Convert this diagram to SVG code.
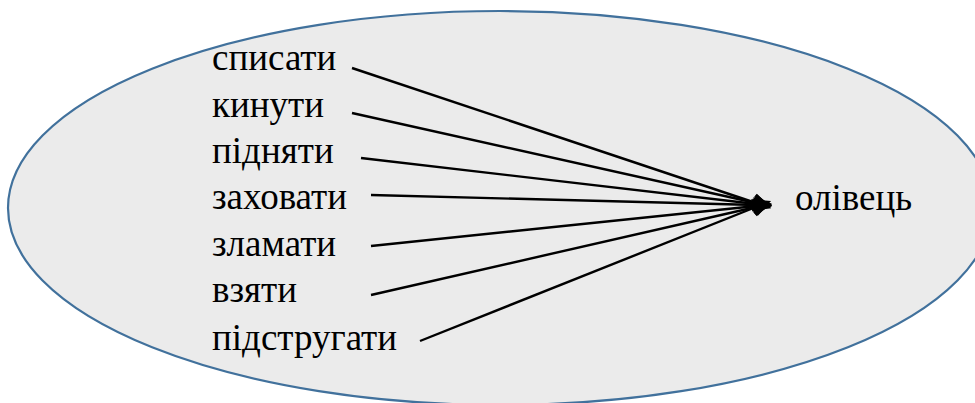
<svg xmlns="http://www.w3.org/2000/svg" width="975" height="403" viewBox="0 0 975 403">
<style>
.c line{stroke:#000;stroke-width:2.4;marker-end:url(#ah)}
</style>
<defs>
<marker id="ah" viewBox="0 0 10 10" refX="1" refY="5" markerWidth="7.5" markerHeight="8.5" orient="auto" markerUnits="strokeWidth">
<path d="M0,0 L10,5 L0,10 z" fill="#000"/>
</marker>
</defs>
<rect width="975" height="403" fill="#fff"/>
<g id="ellipse"><ellipse cx="500" cy="208" rx="492" ry="197" fill="#EBEBEB" stroke="#41719C" stroke-width="2.2"/></g>
<g class="c" id="connectors">
<line x1="352" y1="68" x2="756" y2="203"/>
<line x1="352" y1="113" x2="756" y2="203"/>
<line x1="361" y1="158" x2="756" y2="204"/>
<line x1="371" y1="195" x2="756" y2="205"/>
<line x1="371" y1="246" x2="756" y2="206"/>
<line x1="371" y1="295" x2="756" y2="207"/>
<line x1="420" y1="341" x2="756" y2="207"/>
</g>
<g id="n1"><text x="212" y="70" font-family="Liberation Serif" font-size="37">списати</text></g>
<g id="n2"><text x="212" y="117" font-family="Liberation Serif" font-size="37">кинути</text></g>
<g id="n3"><text x="212" y="163" font-family="Liberation Serif" font-size="37">підняти</text></g>
<g id="n4"><text x="212" y="209" font-family="Liberation Serif" font-size="37">заховати</text></g>
<g id="n5"><text x="212" y="256" font-family="Liberation Serif" font-size="37">зламати</text></g>
<g id="n6"><text x="212" y="302" font-family="Liberation Serif" font-size="37">взяти</text></g>
<g id="n7"><text x="212" y="350" font-family="Liberation Serif" font-size="37">підстругати</text></g>
<g id="target"><text x="795" y="210" font-family="Liberation Serif" font-size="37">олівець</text></g>
</svg>
